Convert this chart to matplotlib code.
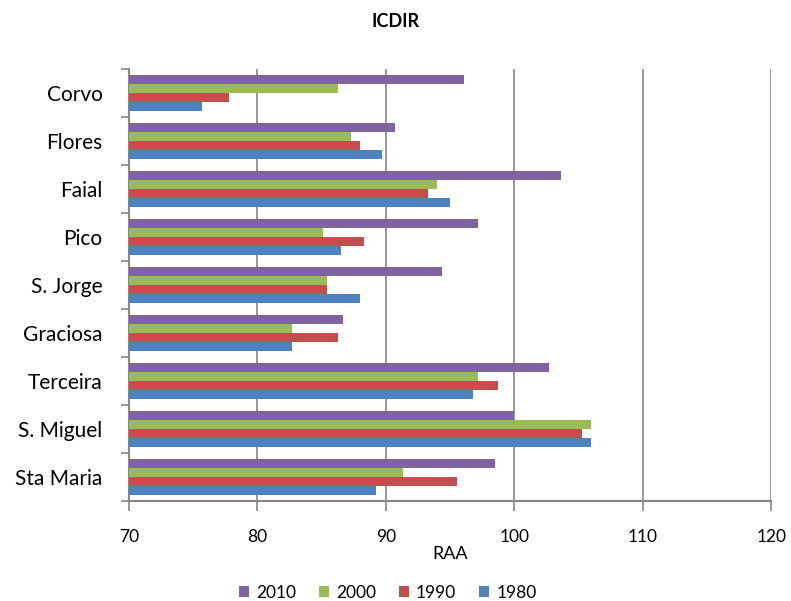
import numpy as np
import matplotlib.pyplot as plt

plt.rcParams['font.family'] = ['Lato', 'DejaVu Sans']

islands = ['Sta Maria', 'S. Miguel', 'Terceira', 'Graciosa', 'S. Jorge',
           'Pico', 'Faial', 'Flores', 'Corvo']
years = ['1980', '1990', '2000', '2010']
v1980 = [89.2, 106.0, 96.8, 82.7, 88.0, 86.5, 95.0, 89.7, 75.7]
v1990 = [95.5, 105.3, 98.7, 86.3, 85.4, 88.3, 93.3, 88.0, 77.8]
v2000 = [91.3, 106.0, 97.2, 82.7, 85.4, 85.1, 94.0, 87.3, 86.3]
v2010 = [98.5, 100.0, 102.7, 86.7, 94.4, 97.2, 103.6, 90.7, 96.1]
colors = ['#4F81BD', '#C0504D', '#9BBB59', '#8064A2']

fig = plt.figure(figsize=(7.91, 6.01), dpi=100)
ax = fig.add_axes([0.163, 0.166, 0.812, 0.72])

y = np.arange(len(islands))
h = 0.1875
series = [v1980, v1990, v2000, v2010]
bars = []
for i, vals in enumerate(series):
    b = ax.barh(y + (i - 1.5) * h, np.array(vals) - 70, left=70, height=h,
                color=colors[i], label=years[i], zorder=3)
    bars.append(b)

ax.set_xlim(70, 120)
ax.set_ylim(-0.5, len(islands) - 0.5)
ax.set_xticks(range(70, 121, 10))
ax.grid(axis='x', color='#868686', linewidth=1.2, zorder=0)

ax.set_yticks(y)
ax.set_yticklabels(islands, fontsize=15)
ax.set_yticks(np.arange(-0.5, len(islands), 1), minor=True)
ax.tick_params(axis='y', which='major', length=0, pad=19)
ax.tick_params(axis='y', which='minor', length=6, width=1.2, color='#868686')
ax.tick_params(axis='x', length=7, width=1.2, color='#868686', pad=13, labelsize=12.5)

for s in ['top', 'right']:
    ax.spines[s].set_visible(False)
for s in ['left', 'bottom']:
    ax.spines[s].set_color('#868686')
    ax.spines[s].set_linewidth(1.5)

ax.set_xlabel('RAA', fontsize=13, labelpad=1)
fig.suptitle('ICDIR', fontsize=13, fontweight='bold', y=0.978)

handles = bars[::-1]
fig.legend(handles, [b.get_label() for b in handles], loc='center',
           bbox_to_anchor=(0.49, 0.014), ncol=4, frameon=False, fontsize=12.5,
           handlelength=0.6, handleheight=0.6, handletextpad=0.4, columnspacing=1.3)

fig.savefig('out.png', dpi=100)
